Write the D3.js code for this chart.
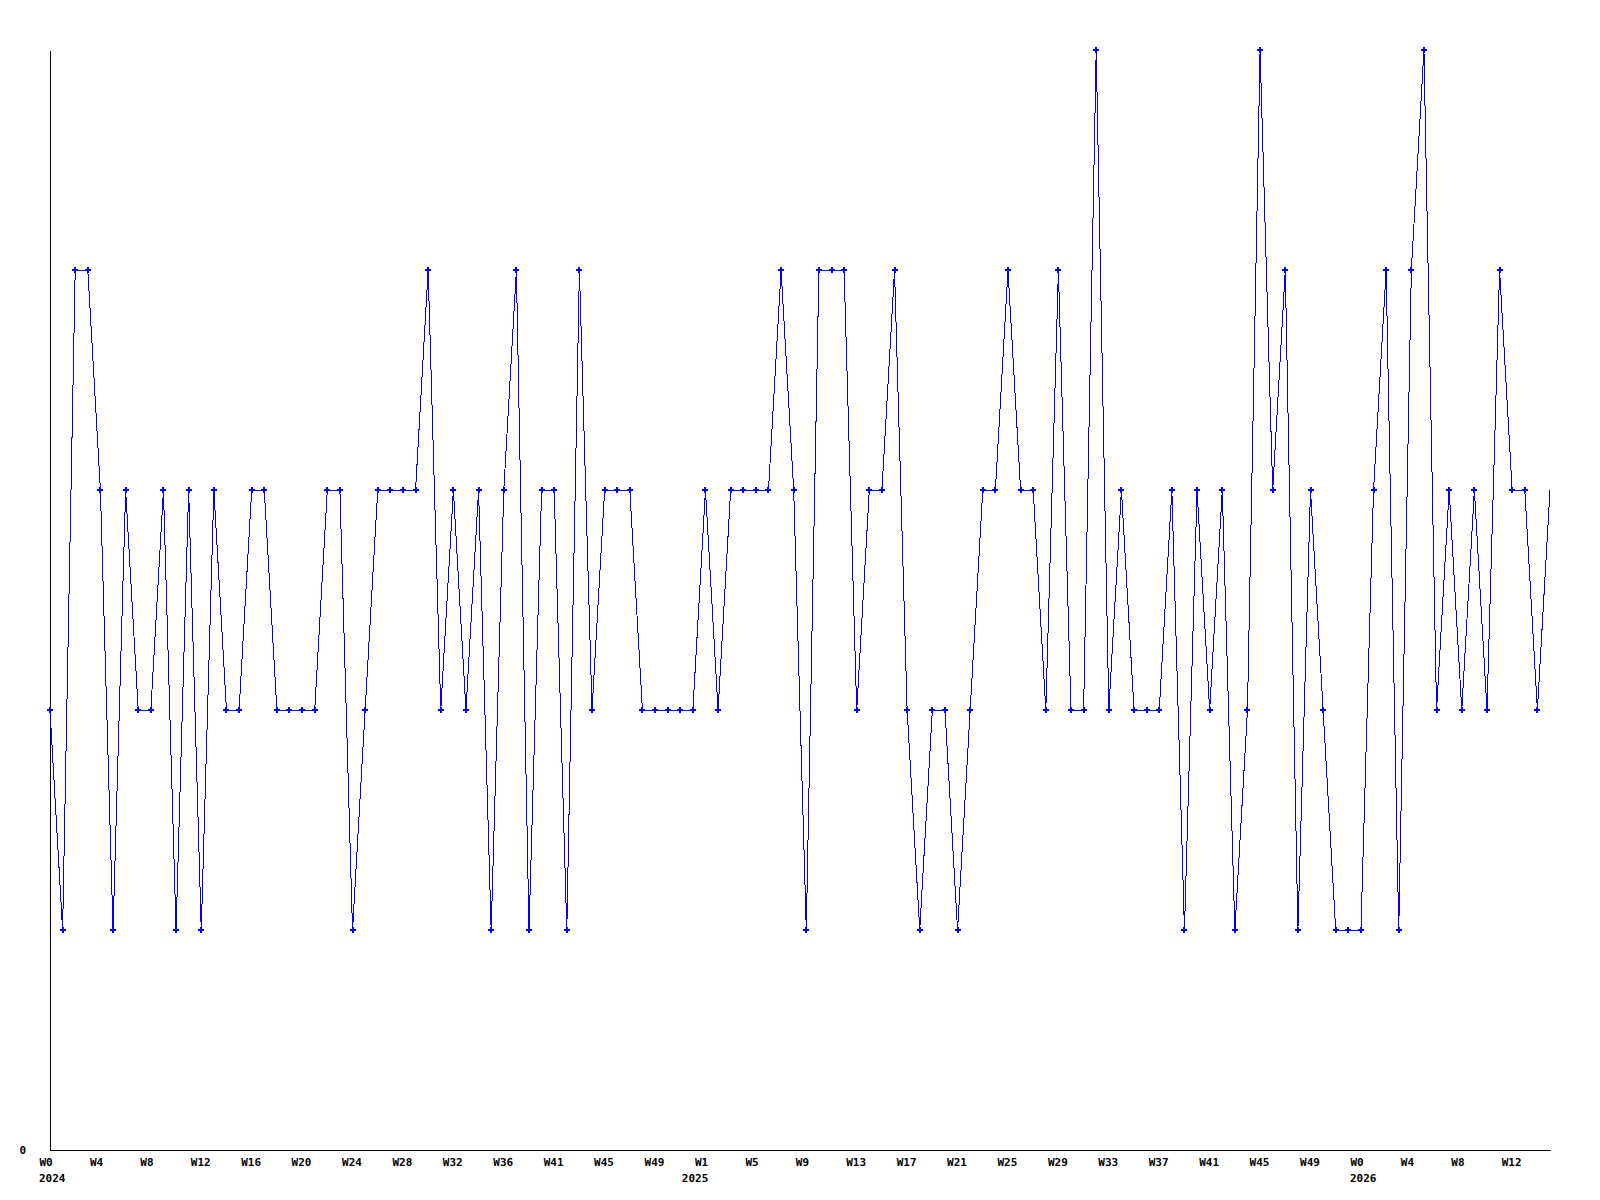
<!DOCTYPE html>
<html>
<head>
<meta charset="utf-8">
<script src="https://cdn.jsdelivr.net/npm/d3@7"></script>
<style>
  html, body { margin: 0; padding: 0; background: #fff; }
  svg { display: block; }
  text { font-family: "DejaVu Sans Mono", "Liberation Mono", monospace; font-size: 11px; font-weight: bold; fill: #000; }
</style>
</head>
<body>
<div id="chart"></div>
<script>
const width = 1600;
const height = 1200;

// weekly values, one per week starting at W0 2024
const values = [
  2, 1, 4, 4, 3, 1, 3, 2, 2, 3,
  1, 3, 1, 3, 2, 2, 3, 3, 2, 2,
  2, 2, 3, 3, 1, 2, 3, 3, 3, 3,
  4, 2, 3, 2, 3, 1, 3, 4, 1, 3,
  3, 1, 4, 2, 3, 3, 3, 2, 2, 2,
  2, 2, 3, 2, 3, 3, 3, 3, 4, 3,
  1, 4, 4, 4, 2, 3, 3, 4, 2, 1,
  2, 2, 1, 2, 3, 3, 4, 3, 3, 2,
  4, 2, 2, 5, 2, 3, 2, 2, 2, 3,
  1, 3, 2, 3, 1, 2, 5, 3, 4, 1,
  3, 2, 1, 1, 1, 3, 4, 1, 4, 5,
  2, 3, 2, 3, 2, 4, 3, 3, 2, 3
];

// x tick every 4 weeks
const tickWeeks = d3.range(0, 120, 4);
const tickLabels = [
  "W0", "W4", "W8", "W12", "W16", "W20", "W24", "W28", "W32", "W36",
  "W41", "W45", "W49", "W1", "W5", "W9", "W13", "W17", "W21", "W25",
  "W29", "W33", "W37", "W41", "W45", "W49", "W0", "W4", "W8", "W12"
];
// week index where each year label sits
const yearWeeks = [0, 51, 104];
const yearLabels = ["2024", "2025", "2026"];

const svg = d3.select('#chart').append('svg')
  .attr('width', width)
  .attr('height', height);

const x = d3.scaleLinear()
  .domain([0, values.length - 1])
  .range([50, 1550]);

const y = d3.scaleLinear()
  .domain([0, 5])
  .range([1150, 50]);

// x axis: plain line, labels left aligned to the tick
const xAxis = svg.append('g')
  .attr('transform', 'translate(0,1150)')
  .call(d3.axisBottom(x)
    .tickValues(tickWeeks)
    .tickFormat((d, i) => tickLabels[i])
    .tickSize(0)
    .tickSizeOuter(0));
xAxis.select('.domain').attr('stroke', '#000').attr('shape-rendering', 'crispEdges');
xAxis.selectAll('.tick text')
  .attr('text-anchor', 'start')
  .attr('x', -11)
  .attr('y', 16)
  .attr('dy', null)
  .attr('font-family', null)
  .attr('font-size', null);

// year line under the week labels
xAxis.selectAll('.year').data(yearWeeks)
  .enter().append('text')
  .attr('class', 'year')
  .attr('text-anchor', 'start')
  .attr('x', d => x(d) - 11)
  .attr('y', 32)
  .text((d, i) => yearLabels[i]);

const yAxis = svg.append('g')
  .attr('transform', 'translate(50,0)')
  .call(d3.axisLeft(y)
    .tickValues([0])
    .tickFormat(d3.format('d'))
    .tickSize(0)
    .tickSizeOuter(0)
    .tickPadding(24));
yAxis.select('.domain').attr('stroke', '#000').attr('shape-rendering', 'crispEdges');
yAxis.selectAll('.tick text')
  .attr('font-family', null)
  .attr('font-size', null);

const line = d3.line()
  .x((d, i) => x(i))
  .y(d => y(d));

svg.append('path')
  .datum(values)
  .attr('d', line)
  .attr('fill', 'none')
  .attr('stroke', '#0000ff')
  .attr('stroke-width', 1)
  .attr('shape-rendering', 'crispEdges');

// markers; the last (current) week has none in the original
const marker = d3.symbol().type(d3.symbolCross).size(20);
svg.selectAll('.pt').data(values.slice(0, -1))
  .enter().append('path')
  .attr('class', 'pt')
  .attr('d', marker)
  .attr('transform', (d, i) => `translate(${x(i)},${y(d)})`)
  .attr('fill', '#0000ff')
  .attr('shape-rendering', 'crispEdges');
</script>
</body>
</html>
